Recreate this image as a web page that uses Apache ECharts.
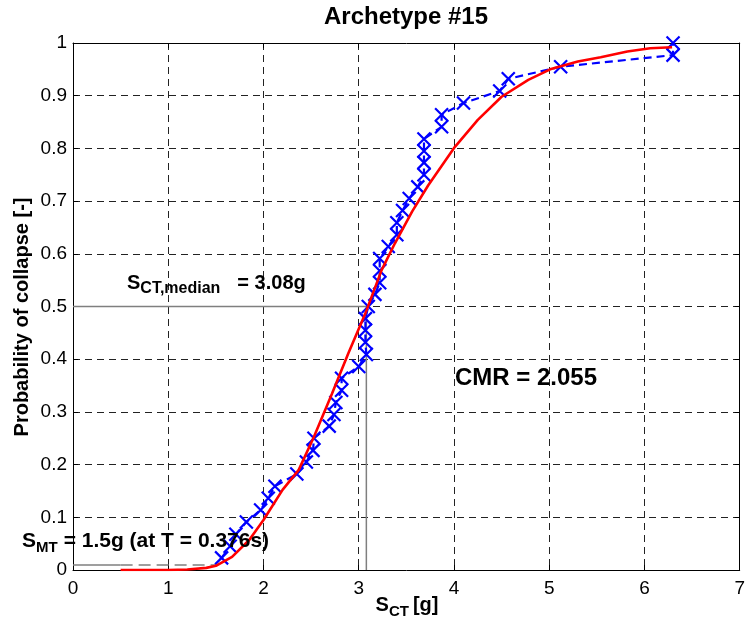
<!DOCTYPE html>
<html>
<head>
<meta charset="utf-8">
<script src="https://cdn.jsdelivr.net/npm/echarts@6/dist/echarts.min.js"></script>
<style>html,body{margin:0;padding:0;background:#fff}#c{width:748px;height:633px}</style>
</head>
<body>
<div id="c"></div>
<script>
// Empirical collapse data (blue x markers)
const blueX = [1.56,1.65,1.71,1.82,1.97,2.05,2.12,2.35,2.45,2.52,2.53,2.69,2.74,2.76,2.82,2.82,3.00,3.08,3.07,3.07,3.07,3.10,3.17,3.22,3.22,3.22,3.31,3.40,3.40,3.46,3.53,3.62,3.685,3.685,3.685,3.685,3.87,3.87,4.10,4.48,4.57,5.12,6.30,6.30];
const blueY = [0.023,0.045,0.068,0.091,0.114,0.136,0.159,0.182,0.205,0.227,0.250,0.273,0.295,0.318,0.341,0.364,0.386,0.409,0.432,0.455,0.477,0.500,0.523,0.545,0.568,0.591,0.614,0.636,0.659,0.682,0.705,0.727,0.750,0.773,0.795,0.818,0.841,0.864,0.886,0.909,0.932,0.955,0.977,1.000];
// Fitted lognormal curve (red)
const redX = [0.5,1.0,1.2,1.4,1.5,1.67,1.85,2.0,2.2,2.37,2.53,2.72,2.89,3.07,3.24,3.38,3.56,3.73,4.01,4.25,4.50,4.78,5.01,5.30,5.54,5.82,6.06,6.29];
const redY = [0,0,0.001,0.004,0.008,0.025,0.057,0.095,0.152,0.19,0.253,0.335,0.411,0.487,0.569,0.62,0.68,0.73,0.803,0.854,0.898,0.93,0.95,0.965,0.973,0.984,0.99,0.992];
// Reference lines
const medianX = [0, 3.08, 3.08];
const medianY = [0.5, 0.5, 0];
const smtX = [0, 0.5, 1.5];
const smtY = [0.0095, 0.0095, 0.0095];
const xTicks = [0,1,2,3,4,5,6,7];
const yTicks = [0,0.1,0.2,0.3,0.4,0.5,0.6,0.7,0.8,0.9,1];

const zip = (a, b) => a.map((v, i) => [v, b[i]]);
const F = 'Liberation Sans, Arial, Helvetica, sans-serif';
const chart = echarts.init(document.getElementById('c'), null, {renderer: 'canvas'});

const gridLine = {show: true, lineStyle: {color: '#222', type: [7, 5], width: 1}};
const rich = {
  a: {fontFamily: F, fontSize: 20, fontWeight: 'bold', color: '#000', lineHeight: 24, verticalAlign: 'top'},
  e: {fontFamily: F, fontSize: 21, fontWeight: 'bold', color: '#000', lineHeight: 24, verticalAlign: 'top'},
  b: {fontFamily: F, fontSize: 16, fontWeight: 'bold', color: '#000', lineHeight: 6.5, verticalAlign: 'bottom', padding: [0, 17, 0, 0]},
  c: {fontFamily: F, fontSize: 15, fontWeight: 'bold', color: '#000', lineHeight: 6.5, verticalAlign: 'bottom', padding: [0, 4, 0, 0]},
  d: {fontFamily: F, fontSize: 15, fontWeight: 'bold', color: '#000', lineHeight: 6.5, verticalAlign: 'bottom', padding: [0, 6, 0, 0]}
};
const boxAxis = {
  axisLine: {show: true, onZero: false, lineStyle: {color: '#000', width: 1}},
  axisTick: {show: true, inside: true, length: 5, lineStyle: {color: '#000'}}
};

chart.setOption({
  animation: false,
  backgroundColor: '#fff',
  grid: {left: 73, right: 5, top: 43, bottom: 63, containLabel: false},
  xAxis: [Object.assign({
    type: 'value', min: xTicks[0], max: xTicks[xTicks.length - 1], interval: 1,
    axisLabel: {fontFamily: F, fontSize: 19, color: '#000', margin: 9},
    splitLine: gridLine
  }, boxAxis), Object.assign({
    type: 'value', position: 'top', min: xTicks[0], max: xTicks[xTicks.length - 1], interval: 1,
    axisLabel: {show: false}, splitLine: {show: false}
  }, boxAxis)],
  yAxis: [Object.assign({
    type: 'value', min: yTicks[0], max: yTicks[yTicks.length - 1], interval: 0.1,
    axisLabel: {fontFamily: F, fontSize: 19, color: '#000', margin: 6,
      formatter: v => String(Math.round(v * 10) / 10)},
    splitLine: gridLine
  }, boxAxis), Object.assign({
    type: 'value', position: 'right', min: yTicks[0], max: yTicks[yTicks.length - 1], interval: 0.1,
    axisLabel: {show: false}, splitLine: {show: false}
  }, boxAxis)],
  series: [
    {type: 'line', data: zip(medianX, medianY), symbol: 'none', silent: true, z: 2,
      lineStyle: {color: '#7f7f7f', width: 1.5}},
    {type: 'line', data: zip(smtX.slice(0, 2), smtY.slice(0, 2)), symbol: 'none', silent: true, z: 2,
      lineStyle: {color: '#7f7f7f', width: 1.5}},
    {type: 'line', data: zip(smtX.slice(1), smtY.slice(1)), symbol: 'none', silent: true, z: 2,
      lineStyle: {color: '#7f7f7f', width: 1.5, type: [12, 6]}},
    {type: 'line', data: zip(blueX, blueY), z: 3,
      symbol: 'path://M0,0L10,10M10,0L0,10', symbolSize: 13,
      itemStyle: {color: 'none', borderColor: '#0000ff', borderWidth: 2.2},
      lineStyle: {color: '#0000ff', width: 2.2, type: [8, 5]}},
    {type: 'line', data: zip(redX, redY), symbol: 'none', z: 4,
      lineStyle: {color: '#ff0000', width: 2.6}}
  ],
  graphic: [
    {type: 'text', x: 406, y: 17, z: 10, style: {text: 'Archetype #15', fontFamily: F, fontSize: 24,
      fontWeight: 'bold', fill: '#000', align: 'center', verticalAlign: 'middle'}},
    {type: 'text', x: 22, y: 317, rotation: Math.PI / 2, z: 10, style: {text: 'Probability of collapse [-]',
      fontFamily: F, fontSize: 20, fontWeight: 'bold', fill: '#000', align: 'center', verticalAlign: 'middle'}},
    {type: 'text', x: 407, y: 595, z: 10, style: {text: '{a|S}{c|CT}{a|[g]}', rich: rich, align: 'center'}},
    {type: 'text', x: 127, y: 273, z: 10, style: {text: '{a|S}{b|CT,median}{a|= 3.08g}', rich: rich}},
    {type: 'text', x: 455, y: 378, z: 10, style: {text: 'CMR = 2.055', fontFamily: F, fontSize: 24,
      fontWeight: 'bold', fill: '#000', verticalAlign: 'middle'}},
    {type: 'text', x: 22, y: 531, z: 10, style: {text: '{e|S}{d|MT}{e|= 1.5g (at T = 0.376s)}', rich: rich}}
  ]
});
</script>
</body>
</html>
